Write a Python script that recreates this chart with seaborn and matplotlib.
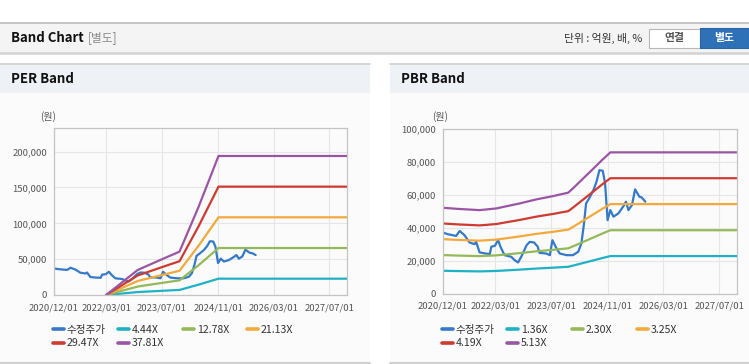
import numpy as np
import pandas as pd
import matplotlib
matplotlib.use('Agg')
import matplotlib.pyplot as plt
import matplotlib.dates as mdates
from matplotlib.patches import Rectangle
from matplotlib.lines import Line2D
from matplotlib.ticker import FuncFormatter
import seaborn as sns

# adjusted share price (same series on both charts)
price_dates = ['2020-12-01', '2021-01-15', '2021-03-25', '2021-04-25', '2021-06-05', '2021-07-20',
               '2021-09-01', '2021-09-15', '2021-10-15', '2021-12-05', '2022-01-12', '2022-01-25',
               '2022-02-25', '2022-03-25', '2022-04-15', '2022-05-20', '2022-07-18', '2022-08-15',
               '2022-09-15', '2022-10-12', '2022-11-28', '2022-12-25', '2023-02-01', '2023-03-05',
               '2023-03-20', '2023-05-18', '2023-06-18', '2023-07-10', '2023-08-15', '2023-09-12',
               '2023-11-10', '2024-01-05', '2024-02-20', '2024-03-18', '2024-04-10', '2024-04-28',
               '2024-05-25', '2024-07-01', '2024-07-28', '2024-08-22', '2024-09-20', '2024-10-10',
               '2024-11-01', '2024-11-25', '2024-12-22', '2025-02-03', '2025-03-18', '2025-04-10',
               '2025-05-01', '2025-06-01', '2025-06-28', '2025-08-05', '2025-08-25', '2025-09-25']
price_values = [37000, 36000, 35000, 38000, 35500, 31000,
                30000, 31400, 25000, 24300, 24000, 28400,
                29000, 32400, 28400, 23300, 22300, 20300,
                18900, 22300, 29400, 31400, 31000, 28400,
                24700, 24300, 23300, 32400, 27400, 24300,
                23300, 23300, 25400, 30400, 42600, 54800,
                57800, 62900, 68000, 75000, 74600, 67000,
                44600, 50700, 46700, 48700, 53000, 55800,
                50700, 53800, 63300, 58800, 58400, 55800]

# PER band: EPS x multiple
eps_dates = ['2022-03-01', '2022-12-01', '2023-07-01', '2023-12-01', '2024-05-15', '2024-11-05', '2027-12-01']
eps_values = [0, 923, 1320, 1600, 3250, 5130, 5130]
per_multiples = [4.44, 12.78, 21.13, 29.47, 37.81]
per_labels = ['4.44X', '12.78X', '21.13X', '29.47X', '37.81X']

# PBR band: BPS x multiple
bps_dates = ['2020-12-01', '2021-03-25', '2021-10-15', '2022-03-10', '2022-10-01', '2023-02-20', '2023-07-15',
             '2023-11-25', '2024-01-05', '2024-07-01', '2024-09-12', '2024-11-25', '2027-12-01']
bps_values = [10160, 10040, 9880, 10080, 10680, 11150, 11540, 11950, 12460, 14810, 15790, 16725, 16725]
pbr_multiples = [1.36, 2.30, 3.25, 4.19, 5.13]
pbr_labels = ['1.36X', '2.30X', '3.25X', '4.19X', '5.13X']

tick_dates = ['2020-12-01', '2022-03-01', '2023-07-01', '2024-11-01', '2026-03-01', '2027-07-01']
price_label = '수정주가'

price_color = '#3579c9'
band_colors = ['#1fb1c6', '#94b959', '#f3a93b', '#cf3a31', '#9a56a4']

sns.set_style('white')
plt.rcParams['font.family'] = ['Noto Sans CJK KR', 'DejaVu Sans']

W, H = 749, 364
fig = plt.figure(figsize=(W / 100, H / 100), dpi=100)
fig.patch.set_facecolor('white')

# page furniture in pixel coordinates
bg = fig.add_axes([0, 0, 1, 1])
bg.set_xlim(0, W)
bg.set_ylim(H, 0)
bg.axis('off')

bg.add_patch(Rectangle((0, 22), W, 30.5, facecolor='#f4f4f4', edgecolor='none'))
bg.plot([0, W], [22.5, 22.5], color='#bdbdbd', lw=1.2)
bg.plot([0, W], [53, 53], color='#d2d2d2', lw=1.8)
bg.text(11, 38, 'Band Chart', fontsize=9.5, fontweight='bold', va='center', color='#111111')
bg.text(88, 38, '[별도]', fontsize=8.5, va='center', color='#8a8a8a')
bg.text(642, 38.5, '단위 : 억원, 배, %', fontsize=7.8, va='center', ha='right', color='#333333')
bg.add_patch(Rectangle((648.5, 28.5), 51, 19, facecolor='white', edgecolor='#b8b8b8', lw=0.8))
bg.text(674, 38, '연결', fontsize=7.8, fontweight='bold', ha='center', va='center', color='#555555')
bg.add_patch(Rectangle((700, 28), 49, 20, facecolor='#2f71b6', edgecolor='#2a64a2', lw=0.8))
bg.text(724.5, 38, '별도', fontsize=7.8, fontweight='bold', ha='center', va='center', color='white')

for x0, x1, title in [(0, 370, 'PER Band'), (390, W, 'PBR Band')]:
    bg.add_patch(Rectangle((x0, 64), x1 - x0, 29, facecolor='#eef1f6', edgecolor='none'))
    bg.add_patch(Rectangle((x0, 93), x1 - x0, 269, facecolor='#fbfbfb', edgecolor='none'))
    bg.plot([x0, x1], [64, 64], color='#d0d0d0', lw=1.2)
    bg.plot([x0, x1], [362.5, 362.5], color='#d0d0d0', lw=1.5)
    bg.text(x0 + 11, 79, title, fontsize=9.5, fontweight='bold', va='center', color='#111111')

price_df = pd.DataFrame({'date': pd.to_datetime(price_dates), 'value': price_values})


def band_frame(dates, base, multiples, labels):
    rows = []
    for m, lbl in zip(multiples, labels):
        for d, b in zip(dates, base):
            rows.append({'date': pd.to_datetime(d), 'value': b * m, 'band': lbl})
    return pd.DataFrame(rows)


def draw_band(rect, bands, labels, ymax, ystep, unit_xy, legend_xs):
    ax = fig.add_axes([rect[0] / W, 1 - rect[3] / H, (rect[2] - rect[0]) / W, (rect[3] - rect[1]) / H])
    ax.set_facecolor('none')
    sns.lineplot(data=price_df, x='date', y='value', color=price_color, lw=1.6, ax=ax, legend=False)
    sns.lineplot(data=bands, x='date', y='value', hue='band', hue_order=labels,
                 palette=dict(zip(labels, band_colors)), lw=1.6, ax=ax, legend=False)
    ax.set_xlim(pd.Timestamp('2020-12-01'), pd.Timestamp('2027-12-01'))
    ax.set_ylim(0, ymax)
    ax.set_yticks(np.arange(0, ymax + 1, ystep))
    ax.yaxis.set_major_formatter(FuncFormatter(lambda v, p: f'{int(v):,}'))
    ax.set_xticks(pd.to_datetime(tick_dates))
    ax.xaxis.set_major_formatter(mdates.DateFormatter('%Y/%m/%d'))
    ax.set_xlabel('')
    ax.set_ylabel('')
    ax.grid(True, color='#e6e6e6', lw=0.8)
    ax.set_axisbelow(True)
    for s in ax.spines.values():
        s.set_color('#c4c4c4')
        s.set_linewidth(0.9)
    ax.tick_params(length=3, width=0.8, color='#c4c4c4', labelsize=6.8, labelcolor='#555555', pad=2)
    ax.tick_params(axis='x', pad=3)
    bg.text(unit_xy[0], unit_xy[1], '(원)', fontsize=7.2, ha='center', va='center', color='#555555')

    # legend: 4 equal columns, 2 rows
    names = [price_label] + labels
    colors = [price_color] + band_colors
    for i, (n, c) in enumerate(zip(names, colors)):
        x = legend_xs[i % 4]
        y = 330 if i < 4 else 343.5
        fig.legend(handles=[Line2D([], [], color=c, lw=2.6)], labels=[n], loc='center left',
                   bbox_to_anchor=(x / W, 1 - y / H), frameon=False, handlelength=1.0,
                   handletextpad=0.3, borderpad=0, borderaxespad=0, fontsize=7.6, labelcolor='#333333')
    return ax


per_df = band_frame(eps_dates, eps_values, per_multiples, per_labels)
pbr_df = band_frame(bps_dates, bps_values, pbr_multiples, pbr_labels)

draw_band((54, 128, 347, 295), per_df, per_labels, 233000, 50000, (48, 117), [53, 118, 183, 247])
draw_band((443, 129, 737, 293.5), pbr_df, pbr_labels, 100000, 20000, (440, 117), [442, 507, 572, 637])

plt.savefig('out.png', dpi=100)
